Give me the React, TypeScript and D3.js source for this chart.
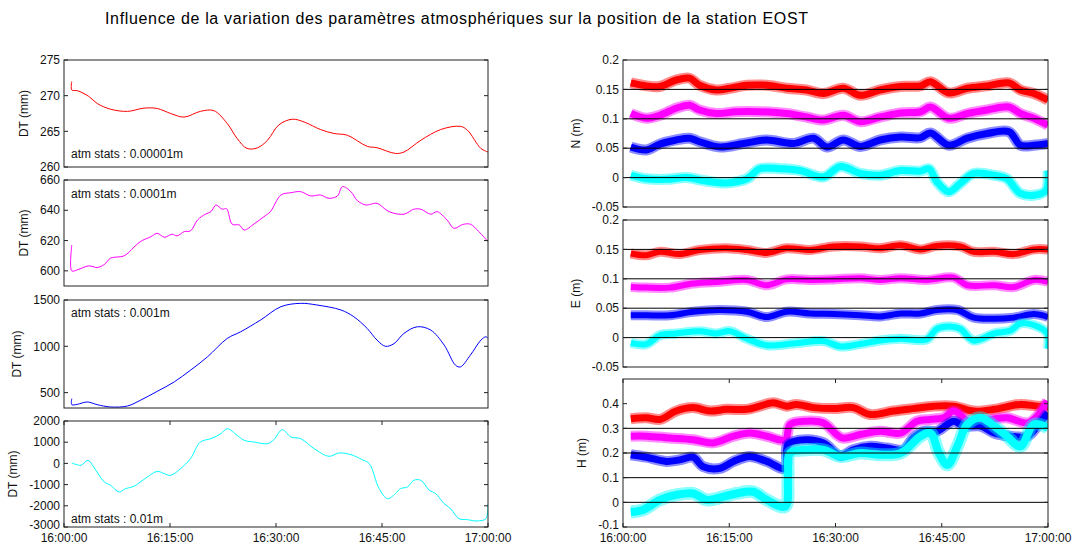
import React from "react";
import * as d3 from "d3";

type Pt = [number, number];

const W = 1073;
const H = 544;
const FONT = "Arial, 'Liberation Sans', Helvetica, sans-serif";
const TITLE =
  "Influence de la variation des paramètres atmosphériques sur la position de la station EOST";

const xTickMinutes = [0, 15, 30, 45, 60];
const xTickLabels = ["16:00:00", "16:15:00", "16:30:00", "16:45:00", "17:00:00"];

// ---------- Left column: DT (mm) ----------
const dtRed: Pt[] = [
  [1.1, 272], [1.1, 270.8], [1.9, 270.7], [3.5, 269.9], [4.7, 268.9], [6.6, 268.1], [9.0, 267.8],
  [11.3, 268.25], [13.2, 268.2], [15.1, 267.5], [17.0, 267.0], [19.3, 267.8], [21.2, 267.9],
  [23.1, 266.1], [24.5, 264.0], [25.9, 262.6], [27.4, 262.7], [28.8, 263.75], [30.4, 265.9],
  [32.3, 266.7], [34.0, 266.3], [36.3, 265.25], [38.2, 264.7], [40.1, 264.45], [42.9, 262.9],
  [44.3, 262.7], [46.9, 261.9], [48.1, 262.1], [50.5, 263.75], [53.3, 265.25], [56.1, 265.7],
  [57.1, 265.15], [59.0, 262.6], [60, 262.1],
];
const dtMagenta: Pt[] = [
  [1.1, 617], [1.1, 600], [1.9, 600.7], [3.5, 603.3], [4.7, 602.2], [5.7, 604.2], [6.6, 608.4],
  [8.5, 609.9], [9.9, 615.6], [10.8, 619.3], [12.3, 622.6], [13.2, 624.8], [14.2, 622.2],
  [15.3, 624.2], [16.0, 623.1], [17.0, 625.9], [17.9, 626.4], [18.9, 633.6], [20.0, 637.4],
  [20.8, 639.1], [21.5, 643.5], [22.4, 640.7], [23.0, 641.1], [23.8, 630.8], [24.8, 630.3],
  [25.5, 627.0], [26.9, 631], [28.3, 635.8], [29.2, 639.1], [30.7, 650.1], [32.1, 651.6],
  [33.5, 652.3], [34.9, 649.5], [36.3, 650.1], [37.5, 647.9], [38.7, 649.5], [39.4, 655.6],
  [40.6, 652.3], [41.5, 646.4], [42.7, 643.5], [43.4, 644], [44.3, 644.6], [46.0, 639.1],
  [48.1, 637.4], [49.5, 640.7], [50.5, 640.7], [51.9, 637.4], [52.8, 639.1], [54.2, 633.6],
  [55.2, 628.1], [56.4, 630.6], [57.5, 630.8], [58.7, 625.9], [60, 619.3],
];
const dtBlue: Pt[] = [
  [1.1, 435], [1.1, 370], [1.9, 374], [3.3, 399], [4.7, 370], [6.6, 345], [9.0, 356],
  [10.8, 417], [13.2, 514], [15.6, 616], [17.9, 742], [20.3, 886], [23.1, 1085], [25.0, 1157],
  [27.8, 1283], [30.7, 1428], [33.5, 1464], [35.8, 1446], [39.2, 1392], [41.0, 1320],
  [42.9, 1193], [44.3, 1067], [45.5, 1000], [46.7, 1029], [48.1, 1139], [50.0, 1211],
  [51.9, 1175], [53.8, 1013], [55.4, 796], [56.1, 778], [57.5, 904], [59.0, 1067],
  [59.7, 1103], [60, 1085],
];
const dtCyan: Pt[] = [
  [1.1, 19], [1.7, -44], [2.4, -90], [3.4, 145], [4.2, -170], [5.7, -877], [6.6, -1034],
  [7.8, -1348], [8.7, -1191], [9.9, -1081], [10.8, -877], [11.8, -641], [13.2, -374],
  [14.2, -484], [15.1, -562], [16.5, -248], [17.9, 224], [19.3, 1010], [20.8, 1167],
  [22.2, 1403], [23.1, 1638], [24.5, 1324], [25.5, 1088], [26.9, 1010], [28.8, 931],
  [29.7, 1120], [30.9, 1591], [32.1, 1245], [33.5, 1167], [35.4, 695], [37.5, 334],
  [38.9, 491], [40.6, 412], [42.2, 176], [43.2, -12], [44.6, -1191], [45.8, -1663],
  [46.9, -1427], [47.6, -1191], [48.6, -1112], [49.5, -798], [50.5, -798], [51.7, -1270],
  [52.6, -1427], [53.8, -1899], [54.7, -2134], [55.9, -2606], [57.1, -2653], [58.5, -2716],
  [59.7, -2606], [60, -1899],
];

const leftTicks1 = [260, 265, 270, 275];
const leftTicks2 = [600, 620, 640, 660];
const leftTicks3 = [500, 1000, 1500];
const leftTicks4 = [-3000, -2000, -1000, 0, 1000, 2000];
const atmLabels = ["atm stats : 0.00001m", "atm stats : 0.0001m", "atm stats : 0.001m", "atm stats : 0.01m"];

// ---------- Right column: N, E, H (m) ----------
const nRed: Pt[] = [
  [1.1, 0.161], [3.3, 0.156], [5.2, 0.155], [7.5, 0.166], [9.4, 0.169], [10.8, 0.157], [13.2, 0.149],
  [15.1, 0.152], [17.5, 0.157], [20.3, 0.157], [23.1, 0.152], [25.9, 0.149], [28.3, 0.143],
  [31.1, 0.152], [33.5, 0.14], [36.3, 0.149], [39.2, 0.155], [42.0, 0.156], [43.4, 0.163],
  [46.0, 0.144], [48.6, 0.152], [51.4, 0.156], [54.5, 0.161], [56.1, 0.149], [58.0, 0.143], [60, 0.132],
];
const nMagenta: Pt[] = [
  [1.1, 0.109], [3.3, 0.101], [5.2, 0.106], [7.5, 0.118], [9.4, 0.123], [10.8, 0.115], [13.2, 0.109],
  [16.0, 0.112], [19.3, 0.112], [23.1, 0.109], [25.9, 0.103], [28.3, 0.098], [31.1, 0.106],
  [33.5, 0.095], [36.3, 0.103], [39.2, 0.11], [42.0, 0.112], [43.4, 0.12], [46.0, 0.101],
  [48.6, 0.109], [51.4, 0.115], [54.5, 0.12], [56.1, 0.109], [58.0, 0.101], [60, 0.089],
];
const nBlue: Pt[] = [
  [1.1, 0.052], [3.3, 0.047], [5.2, 0.057], [7.5, 0.064], [9.4, 0.067], [10.8, 0.061], [13.7, 0.052],
  [17.0, 0.058], [20.3, 0.064], [24.1, 0.058], [26.9, 0.067], [28.8, 0.052], [31.1, 0.064],
  [33.5, 0.053], [36.3, 0.064], [39.2, 0.069], [42.0, 0.068], [43.4, 0.076], [46.0, 0.055],
  [48.6, 0.067], [51.4, 0.075], [54.5, 0.078], [56.1, 0.055], [58.0, 0.055], [60, 0.058],
];
const nCyan: Pt[] = [
  [1.1, 0.004], [3.3, -0.002], [6.1, -0.003], [9.0, 0.0], [11.3, -0.005], [14.6, -0.009],
  [17.5, -0.002], [19.3, 0.015], [22.2, 0.015], [25.0, 0.012], [28.3, 0.001], [30.7, 0.019],
  [33.5, 0.007], [36.3, 0.004], [39.2, 0.012], [42.0, 0.011], [43.2, 0.015], [44.3, -0.007],
  [46.0, -0.024], [47.6, -0.01], [49.5, 0.007], [52.4, 0.004], [54.2, -0.002], [56.1, -0.027],
  [58.0, -0.03], [59.7, -0.022], [60, 0.012],
];
const eRed: Pt[] = [
  [1.1, 0.143], [3.3, 0.14], [5.2, 0.146], [8.0, 0.142], [10.8, 0.149], [14.6, 0.152], [17.5, 0.149],
  [20.3, 0.144], [23.1, 0.152], [26.4, 0.149], [29.7, 0.155], [33.5, 0.155], [36.3, 0.152],
  [39.2, 0.157], [42.0, 0.15], [44.3, 0.156], [47.6, 0.155], [49.5, 0.146], [52.4, 0.146],
  [55.2, 0.142], [58.0, 0.15], [60, 0.15],
];
const eMagenta: Pt[] = [
  [1.1, 0.086], [3.3, 0.085], [6.6, 0.085], [9.9, 0.092], [13.7, 0.095], [17.5, 0.098], [20.3, 0.089],
  [23.1, 0.099], [26.4, 0.098], [29.7, 0.099], [33.5, 0.101], [36.3, 0.098], [39.2, 0.101],
  [42.9, 0.098], [46.7, 0.102], [48.6, 0.089], [52.4, 0.089], [55.2, 0.086], [58.0, 0.098], [60, 0.095],
];
const eBlue: Pt[] = [
  [1.1, 0.038], [3.3, 0.038], [6.6, 0.038], [9.9, 0.044], [13.7, 0.047], [17.5, 0.044], [20.3, 0.035],
  [23.1, 0.044], [26.4, 0.041], [29.7, 0.04], [33.5, 0.038], [36.3, 0.036], [39.2, 0.041],
  [42.0, 0.041], [44.3, 0.047], [47.2, 0.047], [49.5, 0.034], [52.4, 0.032], [55.2, 0.034],
  [58.0, 0.04], [60, 0.035],
];
const eCyan: Pt[] = [
  [1.1, -0.009], [3.3, -0.011], [5.2, 0.004], [7.5, 0.007], [10.8, 0.011], [13.2, 0.007], [15.1, 0.011],
  [17.5, -0.002], [20.3, -0.013], [24.1, -0.01], [28.3, -0.006], [30.7, -0.015], [33.5, -0.011],
  [36.3, -0.005], [39.2, -0.002], [42.9, -0.003], [44.3, 0.015], [46.2, 0.019], [47.6, 0.015],
  [49.5, -0.005], [52.4, 0.007], [54.7, 0.012], [56.1, 0.024], [58.5, 0.019], [59.9, 0.007], [60, -0.019],
];
const hRed: Pt[] = [
  [1.1, 0.339], [3.3, 0.343], [5.2, 0.336], [7.5, 0.37], [9.9, 0.384], [12.3, 0.37], [14.6, 0.377],
  [17.5, 0.377], [19.3, 0.39], [21.2, 0.404], [23.1, 0.39], [24.5, 0.397], [26.9, 0.384],
  [29.7, 0.38], [32.5, 0.384], [34.9, 0.356], [38.2, 0.37], [41.0, 0.38], [43.9, 0.39],
  [46.7, 0.39], [49.5, 0.37], [52.4, 0.377], [56.1, 0.397], [58.5, 0.39], [60, 0.388],
];
const hMagenta: Pt[] = [
  [1.1, 0.268], [3.3, 0.268], [6.6, 0.261], [9.9, 0.254], [12.7, 0.241], [15.6, 0.268], [17.9, 0.281],
  [20.3, 0.268], [22.9, 0.254], [23.6, 0.316], [25.9, 0.329], [28.3, 0.322], [30.9, 0.261],
  [33.5, 0.275], [36.3, 0.288], [39.2, 0.281], [41.5, 0.329], [43.4, 0.336], [45.3, 0.343],
  [46.7, 0.37], [49.1, 0.322], [51.9, 0.336], [54.2, 0.343], [57.1, 0.322], [58.5, 0.35], [59.9, 0.411],
];
const hBlue: Pt[] = [
  [1.1, 0.193], [3.3, 0.183], [6.1, 0.166], [8.0, 0.172], [9.9, 0.183], [11.3, 0.145], [13.7, 0.138],
  [15.6, 0.166], [17.9, 0.186], [20.3, 0.166], [22.9, 0.138], [23.3, 0.235], [25.9, 0.254],
  [28.3, 0.241], [30.7, 0.189], [32.5, 0.213], [34.9, 0.227], [37.3, 0.22], [39.6, 0.213],
  [41.0, 0.261], [42.5, 0.288], [44.3, 0.288], [46.7, 0.329], [48.1, 0.309], [50.5, 0.309],
  [52.4, 0.281], [54.7, 0.268], [57.1, 0.268], [58.5, 0.309], [60, 0.363],
];
const hCyan: Pt[] = [
  [1.1, -0.039], [2.8, -0.031], [5.2, 0.01], [7.5, 0.03], [9.9, 0.036], [11.8, 0.01], [14.2, 0.023],
  [16.0, 0.036], [18.4, 0.043], [20.3, 0.01], [22.9, -0.017], [23.3, 0.104], [23.6, 0.2],
  [25.9, 0.213], [28.3, 0.213], [30.7, 0.186], [33.5, 0.2], [36.3, 0.193], [39.2, 0.2],
  [42.0, 0.268], [43.4, 0.281], [44.6, 0.2], [45.8, 0.152], [47.2, 0.227], [48.6, 0.316],
  [50.5, 0.343], [52.4, 0.309], [54.2, 0.268], [56.1, 0.227], [58.0, 0.316], [60, 0.302],
];

const neTicks = [-0.05, 0, 0.05, 0.1, 0.15, 0.2];
const neTickLabels = ["-0.05", "0", "0.05", "0.1", "0.15", "0.2"];
const neRefLines = [0, 0.05, 0.1, 0.15];
const hTicks = [-0.1, 0, 0.1, 0.2, 0.3, 0.4];
const hTickLabels = ["-0.1", "0", "0.1", "0.2", "0.3", "0.4"];
const hRefLines = [0, 0.1, 0.2, 0.3];

const RED = "#ff0000";
const MAGENTA = "#ff00ff";
const BLUE = "#0000ff";
const CYAN = "#00ffff";

function textWidth(s: string, size = 12) {
  let w = 0;
  for (const c of s) {
    if (c >= "0" && c <= "9") w += 0.556;
    else if (c === ".") w += 0.278;
    else if (c === "-") w += 0.333;
    else w += 0.556;
  }
  return w * size;
}

interface Series {
  data: Pt[];
  color: string;
  width: number;
  halo?: number;
}

interface PanelProps {
  id: string;
  x0: number;
  x1: number;
  y0: number;
  y1: number;
  domain: [number, number];
  ticks: number[];
  tickLabels: string[];
  ylabel: string;
  series: Series[];
  refLines?: number[];
  showX?: boolean;
  note?: { text: string; dx: number; dy: number; fromBottom: boolean };
}

function Panel(p: PanelProps) {
  const xs = d3.scaleLinear().domain([0, 60]).range([p.x0, p.x1]);
  const ys = d3.scaleLinear().domain(p.domain).range([p.y1, p.y0]);
  const line = d3
    .line<Pt>()
    .x((d) => xs(d[0]))
    .y((d) => ys(d[1]))
    .curve(d3.curveCatmullRom.alpha(0.5));
  const maxW = Math.max(...p.tickLabels.map((t) => textWidth(t)));
  const ylabelX = p.x0 - 4 - maxW - 12;
  const yMid = (p.y0 + p.y1) / 2;
  const tl = 4;
  return (
    <g>
      <defs>
        <clipPath id={`clip-${p.id}`}>
          <rect x={p.x0} y={p.y0} width={p.x1 - p.x0} height={p.y1 - p.y0} />
        </clipPath>
      </defs>
      <rect x={p.x0} y={p.y0} width={p.x1 - p.x0} height={p.y1 - p.y0} fill="#fff" />
      <g clipPath={`url(#clip-${p.id})`}>
        {p.series.map((s, i) => (
          <g key={i}>
            {s.halo ? (
              <path d={line(s.data) || ""} fill="none" stroke={s.color} strokeWidth={s.halo} strokeOpacity={0.45} strokeLinejoin="round" />
            ) : null}
            <path d={line(s.data) || ""} fill="none" stroke={s.color} strokeWidth={s.width} strokeLinejoin="round" />
          </g>
        ))}
        {(p.refLines || []).map((v) => (
          <line key={v} x1={p.x0} x2={p.x1} y1={ys(v)} y2={ys(v)} stroke="#000" strokeWidth={1} />
        ))}
      </g>
      <rect x={p.x0} y={p.y0} width={p.x1 - p.x0} height={p.y1 - p.y0} fill="none" stroke="#222" strokeWidth={1} />
      {p.ticks.map((t, i) => (
        <g key={t}>
          <line x1={p.x0} x2={p.x0 + tl} y1={ys(t)} y2={ys(t)} stroke="#222" />
          <line x1={p.x1} x2={p.x1 - tl} y1={ys(t)} y2={ys(t)} stroke="#222" />
          <text
            x={p.x0 - 4}
            y={ys(t) - (p.showX && i === 0 ? 2 : 0)}
            dy="0.35em"
            textAnchor="end"
            fontSize={12}
            fill="#111"
          >
            {p.tickLabels[i]}
          </text>
        </g>
      ))}
      {p.showX
        ? xTickMinutes.map((m, i) => (
            <g key={m}>
              <line x1={xs(m)} x2={xs(m)} y1={p.y1} y2={p.y1 - tl} stroke="#222" />
              <line x1={xs(m)} x2={xs(m)} y1={p.y0} y2={p.y0 + tl} stroke="#222" />
              <text x={xs(m)} y={p.y1 + 14.5} textAnchor="middle" fontSize={12} fill="#111">
                {xTickLabels[i]}
              </text>
            </g>
          ))
        : null}
      <text
        transform={`translate(${ylabelX},${yMid}) rotate(-90)`}
        textAnchor="middle"
        fontSize={12}
        fill="#111"
      >
        {p.ylabel}
      </text>
      {p.note ? (
        <text
          x={p.x0 + p.note.dx}
          y={p.note.fromBottom ? p.y1 - p.note.dy : p.y0 + p.note.dy}
          fontSize={12}
          fill="#111"
        >
          {p.note.text}
        </text>
      ) : null}
    </g>
  );
}

export default function App() {
  const LX0 = 64, LX1 = 488;
  const RX0 = 623, RX1 = 1048;
  const lt = (v: number) => String(v);
  return (
    <svg width={W} height={H} style={{ display: "block", position: "absolute", left: 0, top: 0, background: "#fff", fontFamily: FONT }}>
      <rect x={0} y={0} width={W} height={H} fill="#fff" />
      <text x={105} y={24} fontSize={16} fill="#000" textLength={703} lengthAdjust="spacing">
        {TITLE}
      </text>
      <Panel id="l1" x0={LX0} x1={LX1} y0={60} y1={167} domain={[260, 275]} ticks={leftTicks1} tickLabels={leftTicks1.map(lt)} ylabel="DT (mm)"
        series={[{ data: dtRed, color: RED, width: 1 }]} note={{ text: atmLabels[0], dx: 7, dy: 9, fromBottom: true }} />
      <Panel id="l2" x0={LX0} x1={LX1} y0={180} y1={286} domain={[590, 660]} ticks={leftTicks2} tickLabels={leftTicks2.map(lt)} ylabel="DT (mm)"
        series={[{ data: dtMagenta, color: MAGENTA, width: 1 }]} note={{ text: atmLabels[1], dx: 7, dy: 18, fromBottom: false }} />
      <Panel id="l3" x0={LX0} x1={LX1} y0={300} y1={408} domain={[334, 1500]} ticks={leftTicks3} tickLabels={leftTicks3.map(lt)} ylabel="DT (mm)"
        series={[{ data: dtBlue, color: BLUE, width: 1 }]} note={{ text: atmLabels[2], dx: 7, dy: 17, fromBottom: false }} />
      <Panel id="l4" x0={LX0} x1={LX1} y0={421} y1={527} domain={[-3000, 2000]} ticks={leftTicks4} tickLabels={leftTicks4.map(lt)} ylabel="DT (mm)"
        series={[{ data: dtCyan, color: CYAN, width: 1 }]} showX note={{ text: atmLabels[3], dx: 7, dy: 4, fromBottom: true }} />

      <Panel id="rN" x0={RX0} x1={RX1} y0={60} y1={207} domain={[-0.05, 0.2]} ticks={neTicks} tickLabels={neTickLabels} ylabel="N (m)" refLines={neRefLines}
        series={[
          { data: nRed, color: RED, width: 7, halo: 11 },
          { data: nMagenta, color: MAGENTA, width: 7, halo: 11 },
          { data: nBlue, color: BLUE, width: 7, halo: 11 },
          { data: nCyan, color: CYAN, width: 7, halo: 11 },
        ]} />
      <Panel id="rE" x0={RX0} x1={RX1} y0={220} y1={367} domain={[-0.05, 0.2]} ticks={neTicks} tickLabels={neTickLabels} ylabel="E (m)" refLines={neRefLines}
        series={[
          { data: eRed, color: RED, width: 6, halo: 10 },
          { data: eMagenta, color: MAGENTA, width: 6, halo: 10 },
          { data: eBlue, color: BLUE, width: 6, halo: 10 },
          { data: eCyan, color: CYAN, width: 6, halo: 10 },
        ]} />
      <Panel id="rH" x0={RX0} x1={RX1} y0={379} y1={527} domain={[-0.1, 0.5]} ticks={hTicks} tickLabels={hTickLabels} ylabel="H (m)" refLines={hRefLines} showX
        series={[
          { data: hRed, color: RED, width: 7, halo: 11 },
          { data: hMagenta, color: MAGENTA, width: 7, halo: 11 },
          { data: hBlue, color: BLUE, width: 7, halo: 11 },
          { data: hCyan, color: CYAN, width: 8, halo: 13 },
        ]} />
    </svg>
  );
}
